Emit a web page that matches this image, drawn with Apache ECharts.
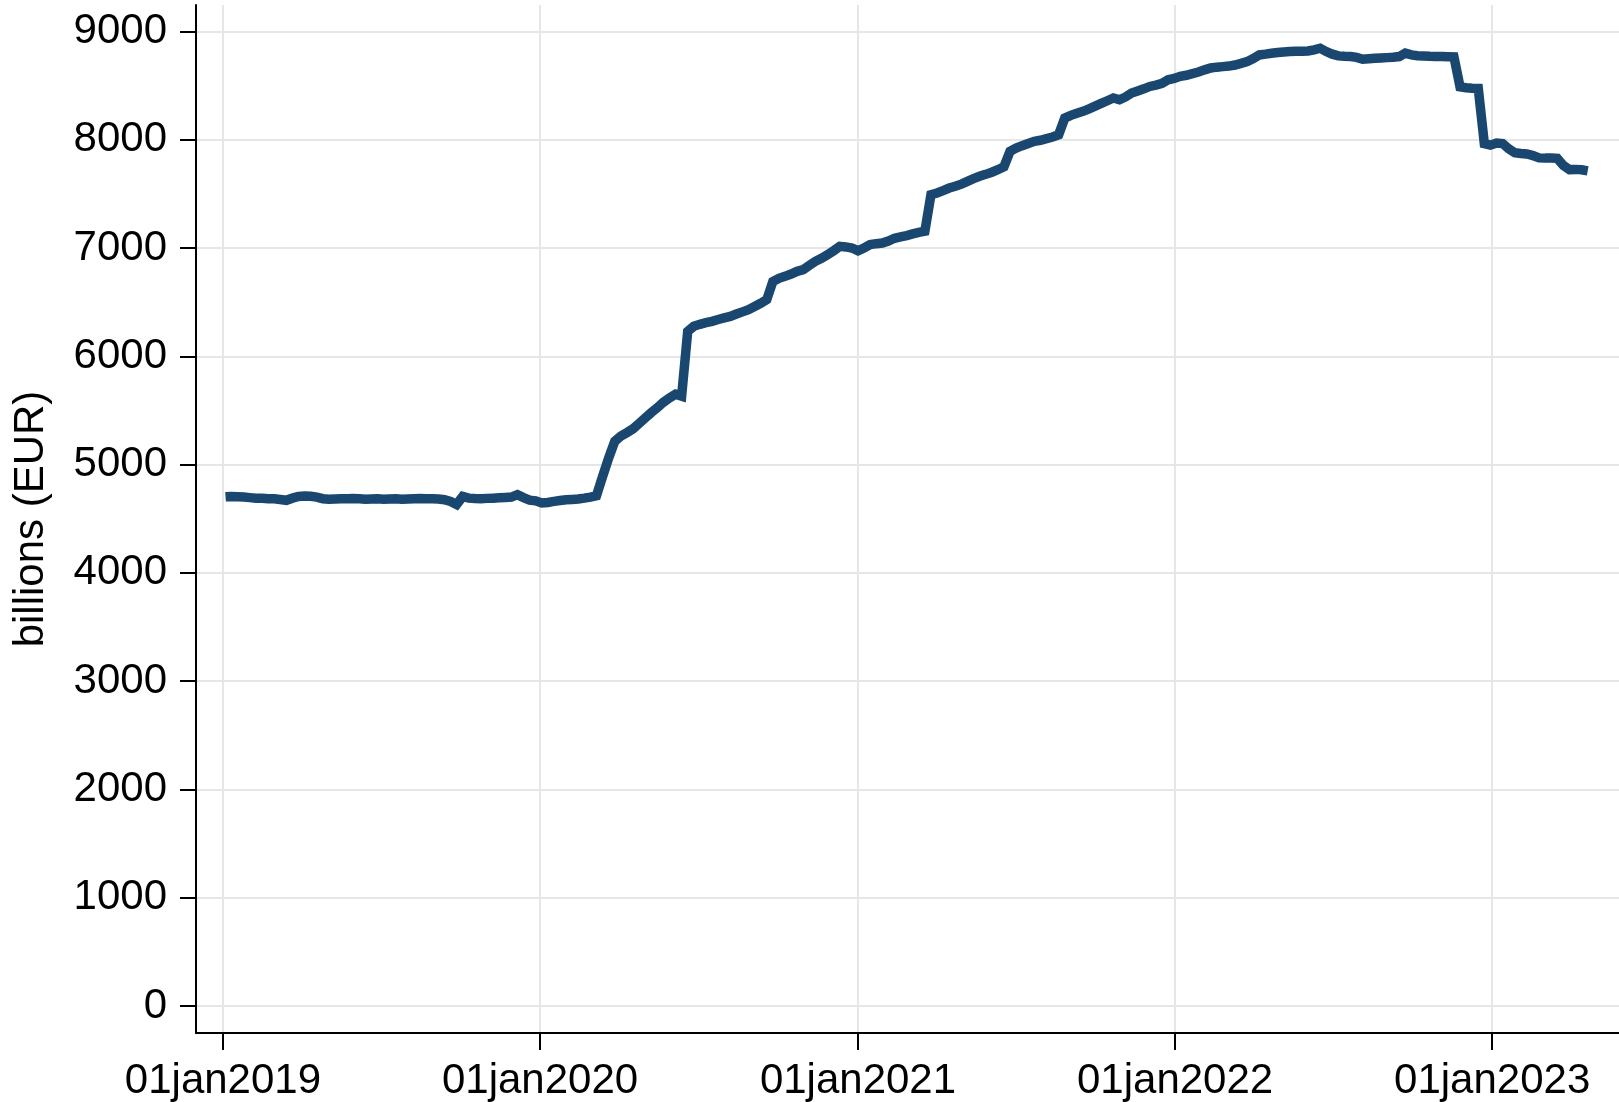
<!DOCTYPE html>
<html>
<head>
<meta charset="utf-8">
<script src="https://cdn.jsdelivr.net/npm/echarts@6/dist/echarts.min.js"></script>
<style>
  html, body { margin: 0; padding: 0; background: #fff; }
  #chart { width: 1619px; height: 1102px; }
</style>
</head>
<body>
<div id="chart"></div>
<script>
// weekly values (billions EUR), one per Friday starting 04jan2019
var vals2019 = [4702, 4706, 4704, 4700, 4695, 4690, 4688, 4685, 4684, 4678, 4670, 4690, 4705,
  4710, 4708, 4700, 4685, 4680, 4682, 4685, 4684, 4686, 4685, 4680, 4682, 4684,
  4680, 4682, 4684, 4680, 4682, 4685, 4686, 4684, 4685, 4682, 4676, 4660, 4632,
  4705, 4690, 4686, 4684, 4688, 4690, 4693, 4696, 4700, 4722, 4695, 4672, 4665];
var vals2020 = [4645, 4650, 4660, 4668, 4675, 4678, 4682, 4690, 4700, 4712, 4890, 5060, 5215,
  5262, 5295, 5330, 5380, 5430, 5480, 5525, 5575, 5615, 5650, 5632, 6230, 6277,
  6295, 6310, 6323, 6340, 6355, 6369, 6390, 6410, 6431, 6460, 6490, 6523, 6690,
  6720, 6738, 6760, 6785, 6800, 6840, 6877, 6905, 6938, 6975, 7015, 7010, 7000];
var vals2021 = [6975, 7000, 7031, 7040, 7046, 7065, 7090, 7102, 7115, 7130, 7145, 7155, 7492,
  7508, 7530, 7554, 7570, 7590, 7615, 7640, 7662, 7680, 7700, 7723, 7750, 7892,
  7923, 7945, 7965, 7985, 7995, 8010, 8025, 8046, 8200, 8225, 8245, 8262, 8285,
  8310, 8335, 8360, 8385, 8369, 8395, 8431, 8450, 8470, 8492, 8505, 8520, 8554, 8565];
var vals2022 = [8585, 8595, 8610, 8625, 8645, 8662, 8670, 8675, 8680, 8690, 8705, 8721, 8750,
  8783, 8790, 8799, 8805, 8810, 8814, 8816, 8818, 8820, 8830, 8845, 8814, 8790,
  8774, 8770, 8768, 8760, 8743, 8748, 8752, 8755, 8758, 8762, 8768, 8799, 8783,
  8776, 8774, 8770, 8768, 8768, 8766, 8765, 8489, 8480, 8476, 8474, 7963, 7950];
var vals2023 = [7969, 7965, 7916, 7880, 7872, 7868, 7854, 7832, 7830, 7830, 7828, 7762,
  7724, 7726, 7722, 7712];

var yTicks = [0, 1000, 2000, 3000, 4000, 5000, 6000, 7000, 8000, 9000];
var xTickYears = [2019, 2020, 2021, 2022, 2023];

var allVals = vals2019.concat(vals2020, vals2021, vals2022, vals2023);
var seriesData = allVals.map(function (v, i) {
  return [new Date(2019, 0, 4 + 7 * i).getTime(), v];
});
var xTicks = xTickYears.map(function (y) { return new Date(y, 0, 1).getTime(); });

var fontFam = '"Liberation Sans", Arial, Helvetica, sans-serif';
var chart = echarts.init(document.getElementById('chart'));
chart.setOption({
  animation: false,
  backgroundColor: '#ffffff',
  grid: { left: 196, right: 0, top: 5, bottom: 68 },
  xAxis: {
    type: 'value',
    min: new Date(2018, 11, 1).getTime(),
    max: new Date(2023, 4, 27).getTime(),
    axisLine: { onZero: false, lineStyle: { color: '#000', width: 2 } },
    axisTick: { show: true, length: 17, lineStyle: { color: '#000', width: 2 }, customValues: xTicks },
    axisLabel: {
      customValues: xTicks,
      margin: 27,
      color: '#000',
      fontSize: 42,
      fontFamily: fontFam,
      formatter: function (v) { return '01jan' + new Date(v).getFullYear(); }
    },
    splitLine: { show: true, lineStyle: { color: '#e6e6e6', width: 2 } }
  },
  yAxis: {
    type: 'value',
    min: -249,
    max: 9244,
    name: 'billions (EUR)',
    nameLocation: 'middle',
    nameGap: 144,
    nameRotate: 90,
    nameTextStyle: { color: '#000', fontSize: 42, fontFamily: fontFam },
    axisLine: { show: true, onZero: false, lineStyle: { color: '#000', width: 2 } },
    axisTick: { show: true, length: 16, lineStyle: { color: '#000', width: 2 }, customValues: yTicks },
    axisLabel: {
      customValues: yTicks,
      margin: 29,
      color: '#000',
      fontSize: 42,
      fontFamily: fontFam,
      formatter: function (v) { return String(Math.round(v)); }
    },
    splitLine: { show: true, lineStyle: { color: '#e6e6e6', width: 2 } }
  },
  series: [{
    type: 'line',
    data: seriesData,
    showSymbol: false,
    symbol: 'none',
    lineStyle: { color: '#1a476f', width: 9.5, join: 'miter' }
  }]
});
</script>
</body>
</html>
